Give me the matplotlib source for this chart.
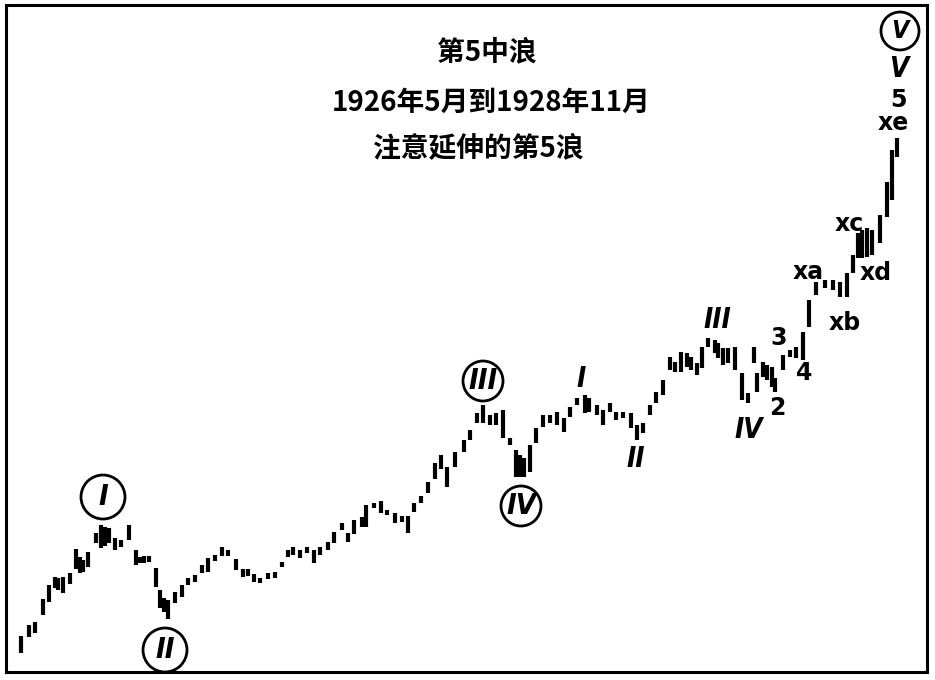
import matplotlib
matplotlib.use("Agg")
import matplotlib.pyplot as plt
from matplotlib.patches import Circle

plt.rcParams['font.family'] = ['Noto Sans CJK SC', 'DejaVu Sans']

# bar positions and high/low values
bar_x = [21, 29, 35, 43, 49, 55, 58, 63, 70, 76, 80, 83, 88, 96, 101, 105, 109, 115, 121, 129,
         136, 140, 144, 149, 156, 160, 164, 168, 175, 182, 188, 195, 202, 208, 215, 222, 228, 236,
         243, 248, 254, 260, 268, 275, 282, 288, 293, 300, 307, 314, 320, 328, 334, 342, 348, 354,
         362, 366, 374, 381, 387, 395, 402, 408, 414, 421, 428, 435, 441, 447, 455, 464, 470, 477,
         483, 490, 496, 503, 510, 516, 520, 524, 530, 536, 543, 550, 557, 564, 570, 577, 585, 589,
         597, 603, 610, 616, 623, 631, 637, 643, 650, 656, 663, 670, 675, 681, 687, 691, 697, 702,
         708, 715, 718, 723, 728, 735, 742, 748, 754, 757, 763, 767, 772, 775, 783, 790, 796, 803,
         809, 816, 825, 833, 840, 847, 853, 858, 862, 867, 872, 880, 887, 892, 897]
highs = [44, 55, 58, 81, 95, 103, 102, 103, 107, 131, 123, 120, 128, 147, 155, 153, 152, 142, 140, 155,
         130, 123, 124, 124, 112, 90, 82, 80, 88, 95, 102, 105, 115, 122, 125, 133, 130, 121,
         111, 111, 106, 102, 107, 108, 118, 130, 133, 130, 133, 130, 133, 138, 148, 157, 147, 160,
         163, 175, 177, 179, 170, 167, 164, 164, 177, 184, 198, 217, 225, 213, 228, 240, 250, 267,
         275, 265, 267, 270, 242, 230, 225, 222, 235, 252, 265, 265, 268, 262, 273, 282, 285, 282,
         275, 270, 277, 268, 268, 267, 255, 257, 275, 288, 300, 323, 318, 328, 327, 323, 317, 333,
         342, 340, 337, 332, 332, 333, 307, 287, 333, 307, 318, 315, 313, 302, 325, 330, 333, 348,
         380, 398, 400, 400, 398, 407, 425, 447, 450, 452, 450, 465, 498, 530, 542]
lows = [27, 43, 47, 65, 78, 92, 90, 87, 96, 111, 107, 108, 113, 137, 132, 134, 137, 130, 133, 140,
        115, 117, 117, 118, 93, 72, 68, 61, 77, 83, 95, 98, 107, 108, 119, 124, 124, 110,
        103, 104, 98, 97, 101, 102, 113, 123, 125, 122, 127, 117, 125, 130, 137, 150, 138, 146,
        153, 153, 172, 167, 165, 157, 158, 147, 168, 177, 187, 201, 211, 193, 213, 228, 240, 257,
        257, 255, 255, 242, 235, 203, 203, 203, 208, 237, 253, 257, 255, 248, 263, 275, 267, 268,
        265, 255, 268, 260, 262, 252, 240, 247, 265, 277, 285, 310, 308, 308, 313, 310, 305, 312,
        333, 327, 322, 315, 317, 310, 280, 277, 317, 288, 303, 300, 293, 288, 310, 323, 322, 320,
        353, 385, 392, 390, 383, 383, 407, 422, 422, 423, 425, 437, 463, 480, 523]

# circled wave labels
circle_labels = ["I", "II", "III", "IV", "V"]
circle_x = [103, 165, 483, 521, 900]
circle_y = [183, 30, 299, 174, 649]
circle_r = [22, 22, 20, 20, 19]

# plain wave labels
wave_labels = ["I", "II", "III", "IV", "V", "2", "3", "4", "5",
               "xa", "xb", "xc", "xd", "xe"]
wave_x = [581, 636, 717, 749, 899, 777, 779, 804, 898, 808, 845, 849, 876, 893]
wave_y = [301, 221, 360, 250, 611, 272, 342, 307, 580, 408, 357, 456, 407, 557]

title_lines = ["第5中浪", "1926年5月到1928年11月", "注意延伸的第5浪"]
title_x = [487, 491, 478]
title_y = [628, 577, 532]

fig = plt.figure(figsize=(9.35, 6.8), dpi=100)
ax = fig.add_axes([6 / 935, 8 / 680, 921 / 935, 667 / 680])
ax.set_xlim(6, 927)
ax.set_ylim(8, 675)
ax.set_xticks([])
ax.set_yticks([])
for s in ax.spines.values():
    s.set_linewidth(2.2)
    s.set_color("black")

ax.vlines(bar_x, lows, highs, color="black", linewidth=3.0, capstyle="butt")

for lab, cx, cy, r in zip(circle_labels, circle_x, circle_y, circle_r):
    ax.add_patch(Circle((cx, cy), r, fill=False, edgecolor="black", linewidth=2.0))
    ax.text(cx, cy, lab, ha="center", va="center", fontsize=21 if r > 19 else 18,
            fontweight="bold", style="italic", fontstretch="condensed",
            family="DejaVu Sans")

for lab, lx, ly in zip(wave_labels, wave_x, wave_y):
    roman = lab in ("I", "II", "III", "IV", "V")
    ax.text(lx, ly, lab, ha="center", va="center",
            fontsize=20 if roman else 17, fontweight="bold",
            style="italic" if roman else "normal",
            fontstretch="condensed" if roman else "normal", family="DejaVu Sans")

for line, tx, ty in zip(title_lines, title_x, title_y):
    ax.text(tx, ty, line, ha="center", va="center", fontsize=20, fontweight="bold")

fig.savefig("out.png", dpi=100)
